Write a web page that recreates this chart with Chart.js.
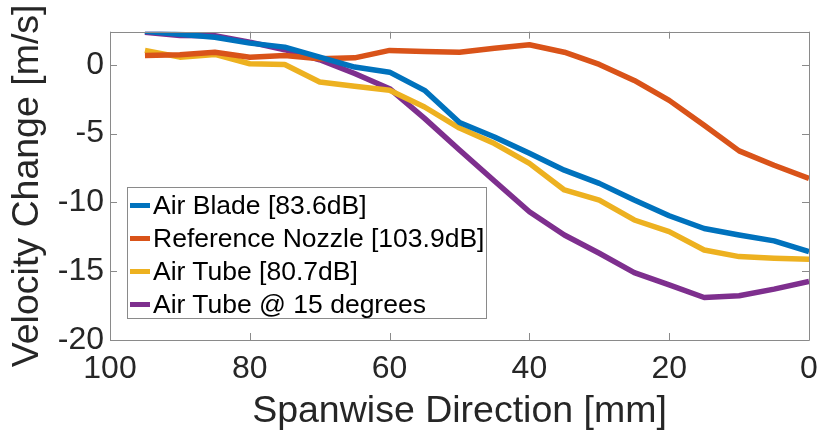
<!DOCTYPE html>
<html><head><meta charset="utf-8">
<script src="https://cdn.jsdelivr.net/npm/chart.js@4/dist/chart.umd.min.js"></script>
<style>
html,body{margin:0;padding:0;background:#fff;}
#wrap{position:relative;width:821px;height:435px;overflow:hidden;}
#legend{position:absolute;left:127px;top:187px;width:360px;height:132px;border:1px solid #8a8a8a;background:#fff;font-family:"Liberation Sans",Arial,sans-serif;font-size:26.5px;color:#000;box-sizing:border-box;}
.row{position:absolute;left:0;height:34px;display:flex;align-items:center;white-space:nowrap;}
.sw{width:20px;height:5px;margin-left:2px;margin-right:3px;}
</style></head>
<body><div id="wrap"><canvas id="c" width="821" height="435"></canvas><div id="legend"></div></div>
<script>
// ---- data ----
const spanwise = [95, 90, 85, 80, 75, 70, 65, 60, 55, 50, 45, 40, 35, 30, 25, 20, 15, 10, 5, 0];
const seriesNames = ['Air Blade [83.6dB]', 'Reference Nozzle [103.9dB]', 'Air Tube [80.7dB]', 'Air Tube @ 15 degrees'];
const airBlade   = [2.43, 2.22, 2.0, 1.57, 1.28, 0.55, -0.17, -0.54, -1.86, -4.2, -5.25, -6.43, -7.66, -8.62, -9.83, -10.97, -11.9, -12.37, -12.8, -13.58];
const refNozzle  = [0.67, 0.72, 0.91, 0.55, 0.67, 0.43, 0.5, 1.04, 0.96, 0.91, 1.2, 1.45, 0.91, 0.02, -1.14, -2.59, -4.4, -6.26, -7.3, -8.26];
const airTube    = [1.04, 0.55, 0.75, 0.07, 0.02, -1.26, -1.57, -1.86, -3.07, -4.6, -5.73, -7.17, -9.1, -9.83, -11.28, -12.13, -13.46, -13.94, -14.06, -14.13];
const airTube15  = [2.36, 2.12, 2.1, 1.64, 1.09, 0.36, -0.64, -1.74, -3.9, -6.2, -8.45, -10.68, -12.37, -13.7, -15.1, -16.0, -16.91, -16.79, -16.3, -15.75];
const xTicks = [100, 80, 60, 40, 20, 0];
const yTicks = [-20, -15, -10, -5, 0];
const xTitle = 'Spanwise Direction [mm]';
const yTitle = 'Velocity Change [m/s]';

// ---- styles ----
const colors = ['#0072BD', '#D95319', '#EDB120', '#7E2F8E'];
const FONT = '"Liberation Sans", Arial, Helvetica, sans-serif';
const allSeries = [airBlade, refNozzle, airTube, airTube15];

const datasets = allSeries.map((vals, i) => ({
  label: seriesNames[i],
  data: spanwise.map((x, j) => ({x: x, y: vals[j]})),
  borderColor: colors[i],
  backgroundColor: colors[i],
  borderWidth: 5.5,
  pointRadius: 0,
  tension: 0,
  fill: false,
  borderJoinStyle: 'round'
}));

const boxPlugin = {
  id: 'box',
  afterDatasetsDraw(chart) {
    const {ctx, chartArea: a, scales: {x, y}} = chart;
    const tl = 7;
    ctx.save();
    ctx.strokeStyle = '#8a8a8a';
    ctx.lineWidth = 1;
    ctx.beginPath();
    ctx.rect(Math.round(a.left) + 0.5, Math.round(a.top) + 0.5, Math.round(a.right - a.left), Math.round(a.bottom - a.top));
    xTicks.forEach(v => {
      const px = Math.round(x.getPixelForValue(v)) + 0.5;
      ctx.moveTo(px, a.bottom); ctx.lineTo(px, a.bottom - tl);
      ctx.moveTo(px, a.top); ctx.lineTo(px, a.top + tl);
    });
    yTicks.forEach(v => {
      const py = Math.round(y.getPixelForValue(v)) + 0.5;
      ctx.moveTo(a.left, py); ctx.lineTo(a.left + tl, py);
      ctx.moveTo(a.right, py); ctx.lineTo(a.right - tl, py);
    });
    ctx.stroke();
    ctx.restore();
  }
};

const chart = new Chart(document.getElementById('c'), {
  type: 'line',
  data: {datasets: datasets},
  options: {
    responsive: false,
    animation: false,
    devicePixelRatio: 1,
    layout: {padding: {left: 0, right: 12, top: 31.7, bottom: 0}},
    plugins: {legend: {display: false}, tooltip: {enabled: false}},
    scales: {
      x: {
        type: 'linear', reverse: true, min: 0, max: 100,
        afterBuildTicks: s => { s.ticks = xTicks.map(v => ({value: v})); },
        afterFit: s => { s.height = 95; s.paddingLeft = 0; s.paddingRight = 0; },
        grid: {display: false, drawTicks: false},
        border: {display: false},
        ticks: {font: {family: FONT, size: 32}, color: '#262626', padding: 10, maxRotation: 0, autoSkip: false},
        title: {display: true, text: xTitle, font: {family: FONT, size: 37.5, lineHeight: 1}, color: '#262626', padding: {top: 0, bottom: 5}}
      },
      y: {
        type: 'linear', min: -20, max: 2.4,
        afterBuildTicks: s => { s.ticks = yTicks.map(v => ({value: v})); },
        afterFit: s => { s.width = 110; s.paddingTop = 0; s.paddingBottom = 0; },
        grid: {display: false, drawTicks: false},
        border: {display: false},
        ticks: {font: {family: FONT, size: 32}, color: '#262626', padding: 6, autoSkip: false},
        title: {display: true, text: yTitle, font: {family: FONT, size: 37.5, lineHeight: 1}, color: '#262626', padding: {top: 9, bottom: 0}}
      }
    }
  },
  plugins: [boxPlugin]
});

// HTML legend built from the datasets
const leg = document.getElementById('legend');
chart.data.datasets.forEach((ds, i) => {
  const row = document.createElement('div');
  row.className = 'row';
  row.style.top = (i * 33.3) + 'px';
  const sw = document.createElement('div');
  sw.className = 'sw';
  sw.style.background = ds.borderColor;
  const t = document.createElement('span');
  t.textContent = ds.label;
  row.appendChild(sw); row.appendChild(t);
  leg.appendChild(row);
});
</script>
</body></html>
